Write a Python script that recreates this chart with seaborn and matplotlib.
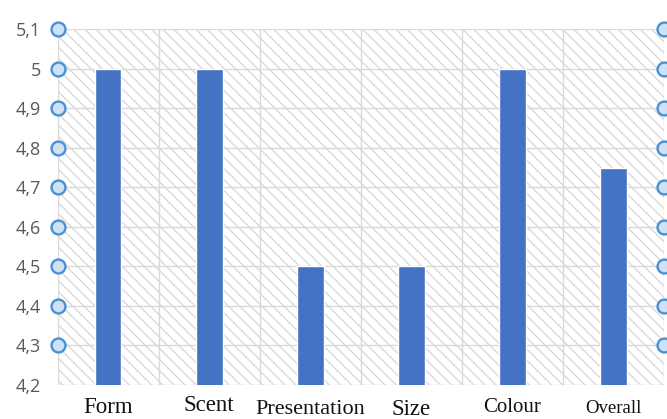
import matplotlib
matplotlib.use("Agg")
import matplotlib.pyplot as plt
from matplotlib.patches import Rectangle
import seaborn as sns
import pandas as pd

# Scores per attribute
categories = ["Form", "Scent", "Presentation", "Size", "Colour", "Overall"]
scores = [5.0, 5.0, 4.5, 4.5, 5.0, 4.75]

y_ticks = [4.2, 4.3, 4.4, 4.5, 4.6, 4.7, 4.8, 4.9, 5.0, 5.1]
y_tick_labels = ["4,2", "4,3", "4,4", "4,5", "4,6", "4,7", "4,8", "4,9", "5", "5,1"]
marker_levels = [4.3, 4.4, 4.5, 4.6, 4.7, 4.8, 4.9, 5.0, 5.1]

# per-label size and baseline (pixels below the top of the figure)
label_sizes = [16.5, 16.5, 16, 16.5, 15, 13.5]
label_baselines = [413, 411, 414, 414.5, 411.5, 413]

df = pd.DataFrame({"category": categories, "score": scores})

sns.set_theme(style="white")
plt.rcParams["hatch.linewidth"] = 0.9
plt.rcParams["hatch.color"] = "#d6d6d6"

W, H = 667, 419
fig = plt.figure(figsize=(W / 100, H / 100), dpi=100)
left, right, top, bottom = 57.5, 664, 29.3, 385
ax = fig.add_axes([left / W, 1 - bottom / H, (right - left) / W, (bottom - top) / H])

# hatched plot background
ax.add_patch(Rectangle((0, 0), 1, 1, transform=ax.transAxes, facecolor="white",
                       edgecolor="#d6d6d6", hatch="\\\\\\", linewidth=0, zorder=0))

sns.barplot(data=df, x="category", y="score", color="#4472C4", width=0.265,
            saturation=1, ax=ax, zorder=3)

ax.set_xlim(-0.5, len(categories) - 0.5)
ax.set_ylim(4.2, 5.1)

# grid lines
for yv in y_ticks:
    ax.axhline(yv, color="#d9d9d9", lw=1.0, zorder=1)
for i in range(len(categories) + 1):
    ax.axvline(i - 0.5, color="#d9d9d9", lw=1.0, zorder=1)

for s in ax.spines.values():
    s.set_visible(False)

ax.set_yticks(y_ticks)
ax.set_yticklabels(y_tick_labels, fontsize=13, color="#595959", family="Open Sans")
ax.tick_params(axis="y", length=0, pad=12)
ax.set_xticks([])
ax.set_xlabel("")
ax.set_ylabel("")

# circle markers on both edges
for xpos in (0, 1):
    ax.scatter([xpos] * len(marker_levels), marker_levels,
               transform=ax.get_yaxis_transform(), s=100, marker="o",
               facecolor="#cce3f7", edgecolor="#4a90d2", linewidths=1.7,
               clip_on=False, zorder=5)

# category labels
trans = ax.get_xaxis_transform()
for i, (name, fs, base) in enumerate(zip(categories, label_sizes, label_baselines)):
    ax.text(i, (bottom - base) / (bottom - top), name, transform=trans,
            ha="center", va="baseline", fontsize=fs, family="Liberation Serif",
            color="#111111")

fig.savefig("out.png", dpi=100)
